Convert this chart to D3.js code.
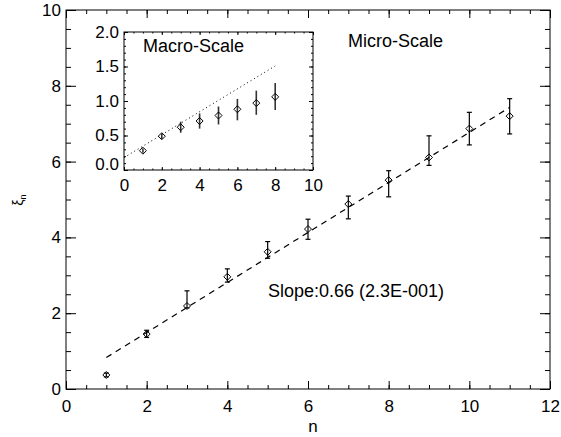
<!DOCTYPE html>
<html>
<head>
<meta charset="utf-8">
<script src="https://cdn.jsdelivr.net/npm/d3@7"></script>
<style>
  html, body { margin: 0; padding: 0; background: #fff; }
  svg { display: block; font-family: "Liberation Sans", Arial, Helvetica, sans-serif; }
  .axis path, .axis line { stroke: #000; }
  .axis text { fill: #000; }
</style>
</head>
<body>
<svg id="chart" width="561" height="437"></svg>
<script>
// Micro-scale structure function: order n vs exponent xi_n
const nMicro = [1, 2, 3, 4, 5, 6, 7, 8, 9, 10, 11];
const xiMicro = [0.37, 1.45, 2.19, 2.96, 3.62, 4.22, 4.88, 5.51, 6.11, 6.87, 7.20];
const xiMicroHi = [0.42, 1.55, 2.59, 3.17, 3.89, 4.48, 5.09, 5.76, 6.68, 7.30, 7.66];
const xiMicroLo = [0.32, 1.36, 2.14, 2.82, 3.45, 3.95, 4.49, 5.07, 5.90, 6.44, 6.73];
const microSlope = 0.66;
const microIntercept = 0.17;
const microFitRange = [1, 11];

// Macro-scale exponents (inset)
const nMacro = [1, 2, 3, 4, 5, 6, 7, 8];
const xiMacro = [0.28, 0.49, 0.62, 0.71, 0.79, 0.88, 0.97, 1.06];
const xiMacroHi = [0.31, 0.53, 0.70, 0.82, 0.92, 1.03, 1.15, 1.26];
const xiMacroLo = [0.25, 0.45, 0.54, 0.60, 0.66, 0.72, 0.80, 0.87];
const macroSlope = 0.166;
const macroIntercept = 0.18;
const macroFitRange = [0, 8];

// Tick labels
const mainXTicks = [0, 2, 4, 6, 8, 10, 12];
const mainYTicks = [0, 2, 4, 6, 8, 10];
const insetXTicks = [0, 2, 4, 6, 8, 10];
const insetYTicks = [0, 0.5, 1.0, 1.5, 2.0];

const svg = d3.select("#chart");

function diamond(g, x, y, r) {
  g.append("path")
    .attr("d", `M${x},${y - r}L${x + r},${y}L${x},${y + r}L${x - r},${y}Z`)
    .attr("fill", "none").attr("stroke", "#000").attr("stroke-width", 1);
}

// Framed plot with inward ticks on all four sides
function frame(g, x, y, xt, yt, xMinor, yMinor, tx, ty, fontSize, xFmt, yFmt, xPad, yPad) {
  const [x0, x1] = x.range();
  const [y0, y1] = y.range(); // y0 bottom, y1 top
  const minorX = d3.range(x.domain()[0], x.domain()[1] + 1e-9, xMinor);
  const minorY = d3.range(y.domain()[0], y.domain()[1] + 1e-9, yMinor);

  // bottom
  g.append("g").attr("class", "axis").attr("transform", `translate(0,${y0})`)
    .call(d3.axisBottom(x).tickValues(minorX).tickSize(-tx / 2).tickFormat(""))
    .call(a => a.select(".domain").remove());
  g.append("g").attr("class", "axis").attr("transform", `translate(0,${y0})`)
    .call(d3.axisBottom(x).tickValues(xt).tickSize(-tx).tickPadding(xPad).tickFormat(xFmt))
    .call(a => a.select(".domain").remove())
    .call(a => a.selectAll("text").attr("font-size", fontSize).attr("font-family", "Liberation Sans, Arial, sans-serif"));
  // top
  g.append("g").attr("class", "axis").attr("transform", `translate(0,${y1})`)
    .call(d3.axisTop(x).tickValues(minorX).tickSize(-tx / 2).tickFormat(""))
    .call(a => a.select(".domain").remove());
  g.append("g").attr("class", "axis").attr("transform", `translate(0,${y1})`)
    .call(d3.axisTop(x).tickValues(xt).tickSize(-tx).tickFormat(""))
    .call(a => a.select(".domain").remove());
  // left
  g.append("g").attr("class", "axis").attr("transform", `translate(${x0},0)`)
    .call(d3.axisLeft(y).tickValues(minorY).tickSize(-ty / 2).tickFormat(""))
    .call(a => a.select(".domain").remove());
  const left = g.append("g").attr("class", "axis").attr("transform", `translate(${x0},0)`)
    .call(d3.axisLeft(y).tickValues(yt).tickSize(-ty).tickPadding(yPad).tickFormat(yFmt))
    .call(a => a.select(".domain").remove())
    .call(a => a.selectAll("text").attr("font-size", fontSize).attr("font-family", "Liberation Sans, Arial, sans-serif"));
  // right
  g.append("g").attr("class", "axis").attr("transform", `translate(${x1},0)`)
    .call(d3.axisRight(y).tickValues(minorY).tickSize(-ty / 2).tickFormat(""))
    .call(a => a.select(".domain").remove());
  g.append("g").attr("class", "axis").attr("transform", `translate(${x1},0)`)
    .call(d3.axisRight(y).tickValues(yt).tickSize(-ty).tickFormat(""))
    .call(a => a.select(".domain").remove());

  g.append("rect")
    .attr("x", x0).attr("y", y1).attr("width", x1 - x0).attr("height", y0 - y1)
    .attr("fill", "none").attr("stroke", "#000").attr("stroke-width", 1);
  return left;
}

// ---- main panel ----
const x = d3.scaleLinear().domain([0, 12]).range([66, 550]);
const y = d3.scaleLinear().domain([0, 10]).range([389, 10]);
const main = svg.append("g");
frame(main, x, y, mainXTicks, mainYTicks, 0.5, 0.5, 8, 10, "17px", d3.format("d"), d3.format("d"), 11, 5);

// fitted power law
main.append("line")
  .attr("x1", x(microFitRange[0])).attr("y1", y(microIntercept + microSlope * microFitRange[0]))
  .attr("x2", x(microFitRange[1])).attr("y2", y(microIntercept + microSlope * microFitRange[1]))
  .attr("stroke", "#000").attr("stroke-width", 1.2).attr("stroke-dasharray", "6,5");

// error bars with caps
nMicro.forEach((n, i) => {
  const cx = x(n);
  main.append("line").attr("x1", cx).attr("x2", cx)
    .attr("y1", y(xiMicroLo[i])).attr("y2", y(xiMicroHi[i]))
    .attr("stroke", "#000").attr("stroke-width", 1.2);
  [xiMicroLo[i], xiMicroHi[i]].forEach(v => {
    main.append("line").attr("x1", cx - 2.5).attr("x2", cx + 2.5)
      .attr("y1", y(v)).attr("y2", y(v)).attr("stroke", "#000").attr("stroke-width", 1.2);
  });
  diamond(main, cx, y(xiMicro[i]), 3.5);
});

main.append("text").attr("x", 348).attr("y", 47).attr("font-size", "18px").text("Micro-Scale");
main.append("text").attr("x", 268).attr("y", 297).attr("font-size", "18px").text("Slope:0.66 (2.3E-001)");
main.append("text").attr("x", 313).attr("y", 432).attr("text-anchor", "middle").attr("font-size", "17px").text("n");

const yl = main.append("text").attr("transform", "translate(23,200) rotate(-90)")
  .attr("text-anchor", "middle").attr("font-size", "14px");
yl.append("tspan").text("ξ");
yl.append("tspan").attr("font-size", "9px").attr("dy", "3").text("n");

// ---- inset panel ----
const xi = d3.scaleLinear().domain([0, 10]).range([124, 313]);
const yi = d3.scaleLinear().domain([0, 2]).range([170, 32]);
const inset = svg.append("g");
inset.append("rect").attr("x", 124).attr("y", 32).attr("width", 189).attr("height", 138).attr("fill", "#fff");
const insetLeft = frame(inset, xi, yi, insetXTicks, insetYTicks, 0.5, 0.1, 3, 4, "17px", d3.format("d"), d3.format(".1f"), 9, 5);
// lift the lowest label clear of the x labels
insetLeft.selectAll(".tick text").filter(d => d === 0).attr("dy", "-0.02em");

inset.append("line")
  .attr("x1", xi(macroFitRange[0])).attr("y1", yi(macroIntercept + macroSlope * macroFitRange[0]))
  .attr("x2", xi(macroFitRange[1])).attr("y2", yi(macroIntercept + macroSlope * macroFitRange[1]))
  .attr("stroke", "#000").attr("stroke-width", 1).attr("stroke-dasharray", "1,3");

nMacro.forEach((n, i) => {
  const cx = xi(n);
  inset.append("line").attr("x1", cx).attr("x2", cx)
    .attr("y1", yi(xiMacroLo[i])).attr("y2", yi(xiMacroHi[i]))
    .attr("stroke", "#333").attr("stroke-width", 1.6);
  diamond(inset, cx, yi(xiMacro[i]), 3.5);
});

inset.append("text").attr("x", 143).attr("y", 52).attr("font-size", "18px").text("Macro-Scale");
</script>
</body>
</html>
